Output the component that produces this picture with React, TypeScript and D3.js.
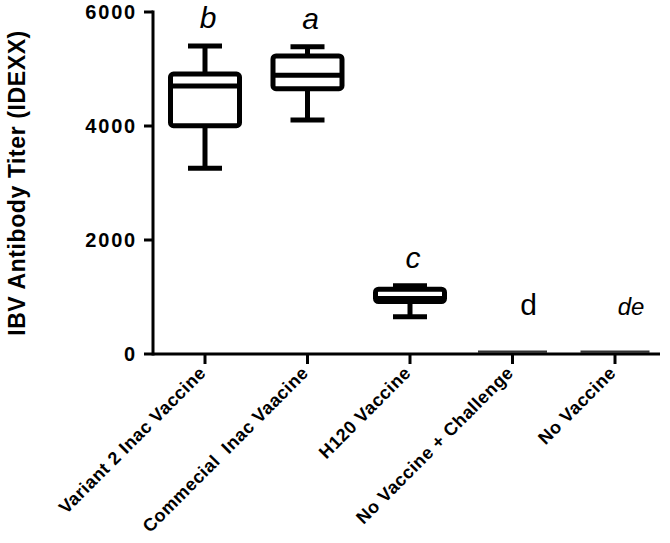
import React from 'react';
import * as d3 from 'd3';

const groups = ['Variant 2 Inac Vaccine', 'Commecial  Inac Vaacine', 'H120 Vaccine', 'No Vaccine + Challenge', 'No Vaccine'];
const whiskerLow = [3260, 4105, 654, 10, 10];
const q1 = [4005, 4655, 921, 25, 25];
const median = [4700, 4890, 974, 40, 40];
const q3 = [4912, 5228, 1137, 55, 55];
const whiskerHigh = [5404, 5392, 1196, 70, 70];
const sigLetters = ['b', 'a', 'c', 'd', 'de'];
const yTicks = [0, 2000, 4000, 6000];

const W = 670;
const H = 543;
const font = '"Liberation Sans", Arial, sans-serif';

export default function App() {
    const x = d3.scalePoint<string>().domain(groups).range([205, 615]);
    const y = d3.scaleLinear().domain([0, 6000]).range([354, 12]);

    const boxW = 69;
    const capW = 34;
    const axisX = 153;
    const axisY = y(0);

    return (
        <svg width={W} height={H} style={{ position: 'absolute', left: 0, top: 0, background: '#fff' }}>
            {/* boxes */}
            {groups.map((g, i) => {
                const cx = x(g) as number;
                const top = y(q3[i]);
                const bot = y(q1[i]);
                if (bot - top < 3) {
                    return (
                        <line key={g} x1={cx - boxW / 2} x2={cx + boxW / 2} y1={y(median[i])} y2={y(median[i])}
                            stroke="#333" strokeWidth={2.2} />
                    );
                }
                return (
                    <g key={g} stroke="#000" strokeWidth={5} fill="none" strokeLinejoin="round">
                        <line x1={cx} x2={cx} y1={y(whiskerHigh[i])} y2={top} />
                        <line x1={cx} x2={cx} y1={bot} y2={y(whiskerLow[i])} />
                        <line x1={cx - capW / 2} x2={cx + capW / 2} y1={y(whiskerHigh[i])} y2={y(whiskerHigh[i])} />
                        <line x1={cx - capW / 2} x2={cx + capW / 2} y1={y(whiskerLow[i])} y2={y(whiskerLow[i])} />
                        <rect x={cx - boxW / 2} y={top} width={boxW} height={bot - top} rx={3} fill="#fff" />
                        <line x1={cx - boxW / 2} x2={cx + boxW / 2} y1={y(median[i])} y2={y(median[i])} />
                    </g>
                );
            })}

            {/* significance letters */}
            {groups.map((g, i) => {
                const lbl = sigLetters[i];
                const cx = (x(g) as number) + (i >= 3 ? 16 : 3);
                const by = Math.min(y(whiskerHigh[i]) - 18, 315);
                return (
                    <text key={'l' + g} x={cx} y={by} textAnchor="middle" fontFamily={font}
                        fontSize={lbl.length > 1 ? 24 : 30} fontStyle={lbl === 'd' ? 'normal' : 'italic'}>
                        {lbl}
                    </text>
                );
            })}

            {/* y axis */}
            <g stroke="#000" strokeWidth={3}>
                <line x1={axisX} x2={axisX} y1={y(6000) - 1.5} y2={axisY + 1.5} />
                {yTicks.map(t => (
                    <line key={t} x1={axisX - 9} x2={axisX} y1={y(t)} y2={y(t)} />
                ))}
            </g>
            {yTicks.map(t => (
                <text key={'t' + t} x={axisX - 16} y={y(t)} dy="0.36em" textAnchor="end" fontFamily={font}
                    fontWeight="bold" fontSize={20} letterSpacing={1.8}>
                    {t}
                </text>
            ))}
            <text transform={`translate(25,${(y(0) + y(6000)) / 2}) rotate(-90)`} textAnchor="middle"
                fontFamily={font} fontWeight="bold" fontSize={23} letterSpacing={0.6}>
                IBV Antibody Titer (IDEXX)
            </text>

            {/* x axis */}
            <g stroke="#000" strokeWidth={3}>
                <line x1={axisX} x2={660} y1={axisY} y2={axisY} />
                {groups.map(g => (
                    <line key={g} x1={x(g)} x2={x(g)} y1={axisY} y2={axisY + 10} />
                ))}
            </g>
            {groups.map(g => (
                <text key={'x' + g} transform={`translate(${(x(g) as number) + 2},${axisY + 20}) rotate(-45)`}
                    textAnchor="end" fontFamily={font} fontWeight="bold" fontSize={18} letterSpacing={0.5}
                    style={{ whiteSpace: 'pre' }}>
                    {g}
                </text>
            ))}
        </svg>
    );
}
